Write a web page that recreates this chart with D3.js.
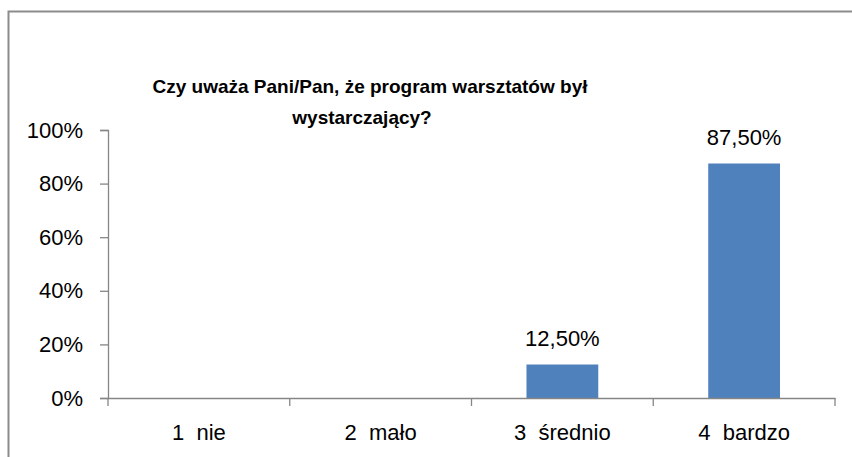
<!DOCTYPE html>
<html>
<head>
<meta charset="utf-8">
<script src="https://cdn.jsdelivr.net/npm/d3@7"></script>
<style>
  html, body { margin: 0; padding: 0; background: #fff; }
  svg { display: block; }
  text { font-family: "Liberation Sans", Arial, sans-serif; fill: #000; }
</style>
</head>
<body>
<svg id="chart" width="852" height="457"></svg>
<script>
const titleLines = ["Czy uważa Pani/Pan, że program warsztatów był", "wystarczający?"];
const categories = ["1  nie", "2  mało", "3  średnio", "4  bardzo"];
const values = [0, 0, 0.125, 0.875];
const valueLabels = ["", "", "12,50%", "87,50%"];
const yTicks = [0, 0.2, 0.4, 0.6, 0.8, 1.0];
const yTickLabels = ["0%", "20%", "40%", "60%", "80%", "100%"];

const svg = d3.select("#chart");
const axisColor = "#868686";

// outer frame (top and left visible)
svg.append("path")
  .attr("d", "M8.5,457 L8.5,11.5 L852,11.5")
  .attr("fill", "none")
  .attr("stroke", "#8c8c8c")
  .attr("stroke-width", 2);

// title
const titleX = [370, 362];
const titleY = [93, 124];
titleLines.forEach((t, i) => {
  svg.append("text")
    .attr("x", titleX[i]).attr("y", titleY[i])
    .attr("text-anchor", "middle")
    .style("font-weight", "bold")
    .style("font-size", "19px")
    .text(t);
});

const plot = { left: 108, right: 835, top: 130, bottom: 398 };

const x = d3.scaleBand().domain(categories).range([plot.left, plot.right]).paddingInner(0).paddingOuter(0);
const y = d3.scaleLinear().domain([0, 1]).range([plot.bottom, plot.top]);

// bars
const barW = x.bandwidth() * 0.395;
svg.append("g").selectAll("rect")
  .data(categories)
  .join("rect")
  .attr("x", d => x(d) + (x.bandwidth() - barW) / 2)
  .attr("width", barW)
  .attr("y", (d, i) => y(values[i]))
  .attr("height", (d, i) => y(0) - y(values[i]))
  .attr("fill", "#4f81bd");

// y axis
const yAxis = d3.axisLeft(y).tickValues(yTicks)
  .tickFormat((d, i) => yTickLabels[i]).tickSize(8).tickPadding(17);
const gy = svg.append("g").attr("transform", `translate(${plot.left},0)`).call(yAxis);
gy.select(".domain").attr("stroke", axisColor).attr("stroke-width", 1.3);
gy.selectAll(".tick line").attr("stroke", axisColor).attr("stroke-width", 1.3);
gy.selectAll(".tick text").style("font-size", "22px").style("font-family", "Liberation Sans, Arial, sans-serif").attr("fill", "#000");

// x axis
const xAxis = d3.axisBottom(x).tickSize(0).tickFormat(d => d);
const gx = svg.append("g").attr("transform", `translate(0,${plot.bottom})`).call(xAxis);
gx.select(".domain").attr("stroke", axisColor).attr("stroke-width", 1.3);
gx.selectAll(".tick text")
  .attr("y", 42).attr("dy", 0)
  .style("font-size", "22px").style("font-family", "Liberation Sans, Arial, sans-serif").attr("fill", "#000")
  .style("white-space", "pre").attr("xml:space", "preserve");
// category boundary ticks
const bounds = categories.map(c => x(c)).concat([plot.right]);
gx.selectAll("line.bound")
  .data(bounds)
  .join("line")
  .attr("class", "bound")
  .attr("x1", d => d).attr("x2", d => d)
  .attr("y1", 0).attr("y2", 8)
  .attr("stroke", axisColor).attr("stroke-width", 1.3);

// data labels
svg.append("g").selectAll("text")
  .data(categories)
  .join("text")
  .filter((d, i) => valueLabels[i] !== "")
  .attr("x", d => x(d) + x.bandwidth() / 2)
  .attr("y", d => y(values[categories.indexOf(d)]) - 19)
  .attr("text-anchor", "middle")
  .style("font-size", "22px")
  .text(d => valueLabels[categories.indexOf(d)]);
</script>
</body>
</html>
